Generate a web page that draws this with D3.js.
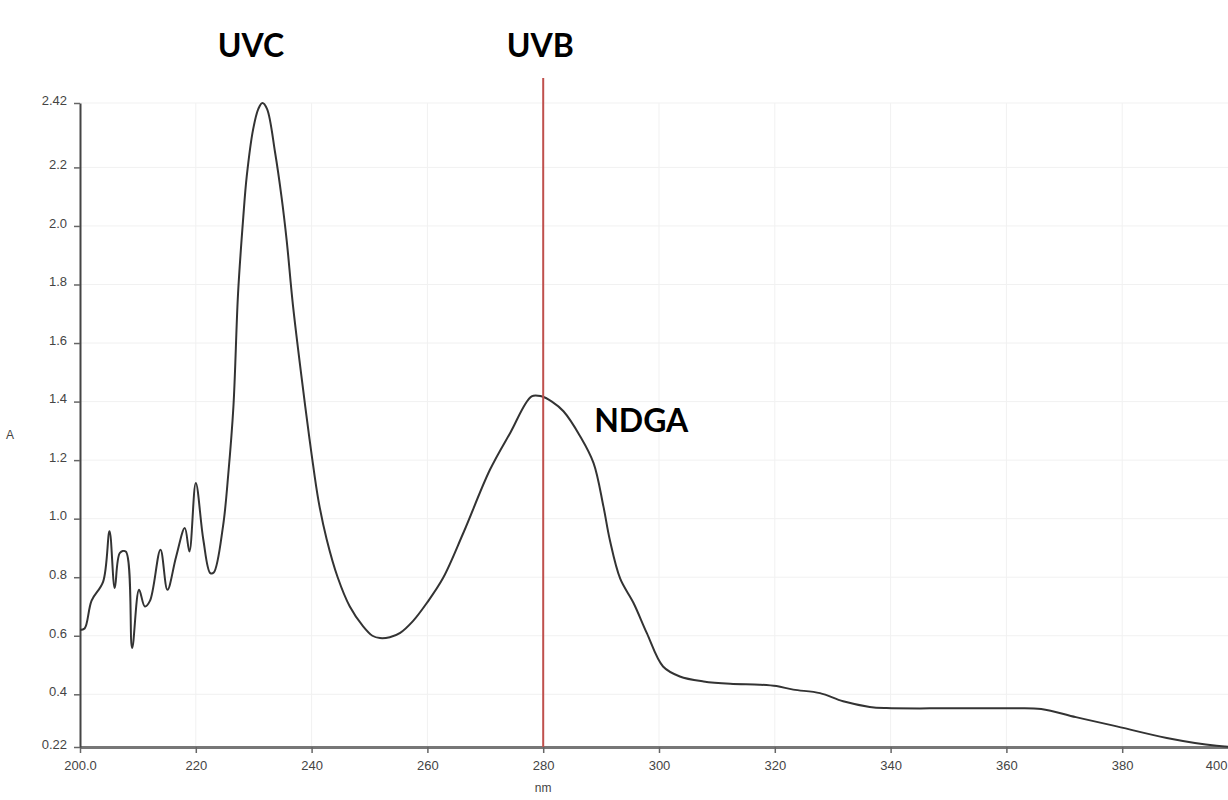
<!DOCTYPE html>
<html>
<head>
<meta charset="utf-8">
<script src="https://cdn.jsdelivr.net/npm/d3@7"></script>
<style>
  body { margin: 0; background: #fff; }
  .tick text { font-family: "Liberation Sans", Arial, sans-serif; font-size: 13px; fill: #444; }
  .ann { font-family: Lato, "Open Sans", sans-serif; font-weight: bold; font-size: 32px; fill: #000; }
</style>
</head>
<body>
<div id="chart"></div>
<script>
// spectrum (nm, absorbance)
const wavelength = [200.0, 200.8, 202.0, 204.0, 205.1, 206.0, 206.9, 207.9, 209.0, 210.2,
  211.2, 212.1, 213.9, 215.1, 216.6, 218.1, 218.9, 220.0, 221.3, 222.5,
  223.1, 224.7, 225.6, 226.5, 227.3, 228.2, 228.8, 229.9, 230.8, 231.5,
  232.3, 233.7, 234.8, 235.7, 236.8, 238.9, 240.0, 241.2, 242.6, 244.5,
  246.6, 248.9, 250.5, 251.8, 253.5, 255.3, 257.5, 259.9, 262.7, 266.2,
  270.8, 274.3, 278.0, 279.7, 281.5, 283.5, 286.4, 288.7, 290.4, 291.5,
  293.3, 295.6, 297.9, 300.7, 303.6, 307.7, 312.3, 317.4, 320.3, 323.2,
  327.8, 331.8, 336.4, 339.3, 350.0, 360.0, 366.0, 372.0, 378.5, 387.7,
  396.3, 400.0];
const absorbance = [0.62, 0.625, 0.72, 0.785, 0.957, 0.763, 0.883, 0.888, 0.558, 0.757,
  0.70, 0.72, 0.894, 0.757, 0.87, 0.968, 0.888, 1.122, 0.928, 0.814,
  0.816, 0.974, 1.15, 1.384, 1.77, 2.03, 2.17, 2.33, 2.40, 2.42,
  2.40, 2.25, 2.10, 1.95, 1.725, 1.384, 1.22, 1.06, 0.93, 0.80,
  0.70, 0.632, 0.60, 0.592, 0.595, 0.61, 0.65, 0.712, 0.797, 0.951,
  1.167, 1.293, 1.418, 1.418, 1.40, 1.367, 1.281, 1.19, 1.042, 0.928,
  0.795, 0.712, 0.609, 0.495, 0.461, 0.444, 0.436, 0.433, 0.428, 0.416,
  0.404, 0.376, 0.357, 0.353, 0.352, 0.352, 0.350, 0.322, 0.293, 0.251,
  0.224, 0.22];

const xTicks = [200, 220, 240, 260, 280, 300, 320, 340, 360, 380, 400];
const yTicks = [0.22, 0.4, 0.6, 0.8, 1.0, 1.2, 1.4, 1.6, 1.8, 2.0, 2.2, 2.42];
const markerNm = 280;
const labels = ["UVC", "UVB", "NDGA"];
const labelNm = [223.8, 273.7, 288.8];

const width = 1228, height = 800;
const svg = d3.select("#chart").append("svg")
  .attr("width", width)
  .attr("height", height);

const x = d3.scaleLinear().domain([200, 400]).range([80, 1238]);
const y = d3.scaleLinear().domain([0.22, 2.42]).range([747, 103]);

// grid
svg.append("g").selectAll("line")
  .data(xTicks.slice(1)).enter().append("line")
  .attr("x1", d => x(d)).attr("x2", d => x(d))
  .attr("y1", y(2.42)).attr("y2", y(0.22))
  .attr("stroke", "#f1f1f1");
svg.append("g").selectAll("line")
  .data(yTicks.slice(1)).enter().append("line")
  .attr("x1", x(200)).attr("x2", x(400))
  .attr("y1", d => y(d)).attr("y2", d => y(d))
  .attr("stroke", "#f1f1f1");

// axes
const xAxis = svg.append("g")
  .attr("transform", `translate(0,${y(0.22)})`)
  .call(d3.axisBottom(x).tickValues(xTicks).tickSize(6).tickSizeOuter(0)
    .tickFormat(d => d === 200 ? "200.0" : d3.format("d")(d)));
xAxis.select(".domain").attr("stroke", "#777").attr("stroke-width", 3);
xAxis.selectAll(".tick line").attr("stroke", "#666").attr("stroke-width", 1.5);
xAxis.selectAll(".tick text").attr("dy", "1.05em");
// last label sits at the window edge: keep it inside
xAxis.selectAll(".tick text").filter(d => d === 400)
  .attr("text-anchor", "end").attr("x", width - 1 - x(400));

const yAxis = svg.append("g")
  .attr("transform", `translate(${x(200)},0)`)
  .call(d3.axisLeft(y).tickValues(yTicks).tickSize(6).tickSizeOuter(0)
    .tickFormat(d => (d === 0.22 || d === 2.42) ? d3.format(".2f")(d) : d3.format(".1f")(d)));
yAxis.select(".domain").attr("stroke", "#444").attr("stroke-width", 2);
yAxis.selectAll(".tick line").attr("stroke", "#666").attr("stroke-width", 1.5);
yAxis.selectAll(".tick text").attr("x", -13).attr("dy", "0.1em");

svg.append("text")
  .attr("x", 10).attr("y", 439)
  .attr("text-anchor", "middle")
  .style("font-family", "Liberation Sans, Arial, sans-serif")
  .style("font-size", "12px").style("fill", "#444")
  .text("A");
svg.append("text")
  .attr("x", x(280)).attr("y", 792)
  .attr("text-anchor", "middle")
  .style("font-family", "Liberation Sans, Arial, sans-serif")
  .style("font-size", "12px").style("fill", "#444")
  .text("nm");

// spectrum
const points = wavelength.map((w, i) => [w, absorbance[i]]);
const line = d3.line()
  .x(d => x(d[0]))
  .y(d => y(d[1]))
  .curve(d3.curveCatmullRom.alpha(0.5));

svg.append("path")
  .datum(points)
  .attr("d", line)
  .attr("fill", "none")
  .attr("stroke", "#333")
  .attr("stroke-width", 2);

// marker line
svg.append("line")
  .attr("x1", x(markerNm)).attr("x2", x(markerNm))
  .attr("y1", 78).attr("y2", y(0.22))
  .attr("stroke", "#c0504d")
  .attr("stroke-width", 2);

svg.selectAll(".ann")
  .data(labels).enter().append("text")
  .attr("class", "ann")
  .attr("x", (d, i) => x(labelNm[i]))
  .attr("y", d => d === "NDGA" ? 432 : 57)
  .text(d => d);
</script>
</body>
</html>
